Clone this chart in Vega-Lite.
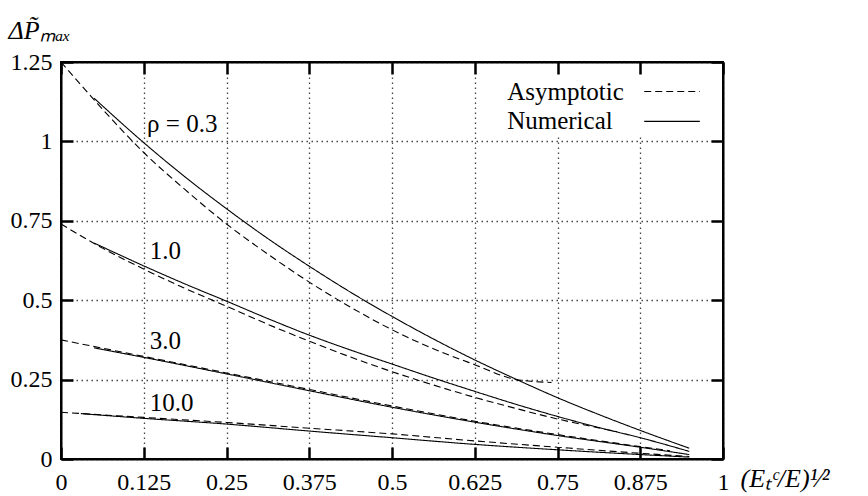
{
  "$schema": "https://vega.github.io/schema/vega-lite/v6.json",
  "width": 662,
  "height": 397,
  "autosize": "none",
  "padding": {"left": 61, "top": 62, "right": 145, "bottom": 37},
  "background": "white",
  "config": {
    "view": {"stroke": "black", "strokeWidth": 2},
    "font": "Liberation Serif",
    "axis": {
      "labelFont": "Liberation Serif",
      "titleFont": "Liberation Serif",
      "labelFontSize": 24,
      "titleFontSize": 26,
      "labelColor": "black",
      "titleColor": "black",
      "titleFontWeight": "normal",
      "tickColor": "black",
      "tickWidth": 2.5,
      "tickSize": -12,
      "domainColor": "black",
      "domainWidth": 2,
      "gridColor": "#444444",
      "gridDash": [1.5, 3.5],
      "gridWidth": 1.3,
      "labelFlush": false,
      "labelOverlap": false
    }
  },
  "datasets": {
    "curves": [
      {"series": "0.3 A", "kind": "Asymptotic", "x": 0, "y": 1.25},
      {"series": "0.3 A", "kind": "Asymptotic", "x": 0.0625, "y": 1.102},
      {"series": "0.3 A", "kind": "Asymptotic", "x": 0.125, "y": 0.965},
      {"series": "0.3 A", "kind": "Asymptotic", "x": 0.1875, "y": 0.848},
      {"series": "0.3 A", "kind": "Asymptotic", "x": 0.25, "y": 0.74},
      {"series": "0.3 A", "kind": "Asymptotic", "x": 0.3125, "y": 0.645},
      {"series": "0.3 A", "kind": "Asymptotic", "x": 0.375, "y": 0.557},
      {"series": "0.3 A", "kind": "Asymptotic", "x": 0.4375, "y": 0.478},
      {"series": "0.3 A", "kind": "Asymptotic", "x": 0.5, "y": 0.407},
      {"series": "0.3 A", "kind": "Asymptotic", "x": 0.5625, "y": 0.347},
      {"series": "0.3 A", "kind": "Asymptotic", "x": 0.625, "y": 0.297},
      {"series": "0.3 A", "kind": "Asymptotic", "x": 0.688, "y": 0.25},
      {"series": "0.3 A", "kind": "Asymptotic", "x": 0.741, "y": 0.241},
      {"series": "0.3 N", "kind": "Numerical", "x": 0.05, "y": 1.136},
      {"series": "0.3 N", "kind": "Numerical", "x": 0.125, "y": 0.996},
      {"series": "0.3 N", "kind": "Numerical", "x": 0.1875, "y": 0.888},
      {"series": "0.3 N", "kind": "Numerical", "x": 0.25, "y": 0.788},
      {"series": "0.3 N", "kind": "Numerical", "x": 0.3125, "y": 0.694},
      {"series": "0.3 N", "kind": "Numerical", "x": 0.375, "y": 0.607},
      {"series": "0.3 N", "kind": "Numerical", "x": 0.4375, "y": 0.525},
      {"series": "0.3 N", "kind": "Numerical", "x": 0.5, "y": 0.449},
      {"series": "0.3 N", "kind": "Numerical", "x": 0.5625, "y": 0.378},
      {"series": "0.3 N", "kind": "Numerical", "x": 0.625, "y": 0.312},
      {"series": "0.3 N", "kind": "Numerical", "x": 0.6875, "y": 0.251},
      {"series": "0.3 N", "kind": "Numerical", "x": 0.75, "y": 0.193},
      {"series": "0.3 N", "kind": "Numerical", "x": 0.8125, "y": 0.14},
      {"series": "0.3 N", "kind": "Numerical", "x": 0.875, "y": 0.09},
      {"series": "0.3 N", "kind": "Numerical", "x": 0.949, "y": 0.034},
      {"series": "1.0 A", "kind": "Asymptotic", "x": 0, "y": 0.74},
      {"series": "1.0 A", "kind": "Asymptotic", "x": 0.0625, "y": 0.664},
      {"series": "1.0 A", "kind": "Asymptotic", "x": 0.125, "y": 0.598},
      {"series": "1.0 A", "kind": "Asymptotic", "x": 0.1875, "y": 0.537},
      {"series": "1.0 A", "kind": "Asymptotic", "x": 0.25, "y": 0.481},
      {"series": "1.0 A", "kind": "Asymptotic", "x": 0.3125, "y": 0.424},
      {"series": "1.0 A", "kind": "Asymptotic", "x": 0.375, "y": 0.371},
      {"series": "1.0 A", "kind": "Asymptotic", "x": 0.4375, "y": 0.321},
      {"series": "1.0 A", "kind": "Asymptotic", "x": 0.5, "y": 0.275},
      {"series": "1.0 A", "kind": "Asymptotic", "x": 0.5625, "y": 0.233},
      {"series": "1.0 A", "kind": "Asymptotic", "x": 0.625, "y": 0.194},
      {"series": "1.0 A", "kind": "Asymptotic", "x": 0.6875, "y": 0.159},
      {"series": "1.0 A", "kind": "Asymptotic", "x": 0.75, "y": 0.126},
      {"series": "1.0 A", "kind": "Asymptotic", "x": 0.8125, "y": 0.098},
      {"series": "1.0 A", "kind": "Asymptotic", "x": 0.84, "y": 0.086},
      {"series": "1.0 N", "kind": "Numerical", "x": 0.05, "y": 0.68},
      {"series": "1.0 N", "kind": "Numerical", "x": 0.125, "y": 0.608},
      {"series": "1.0 N", "kind": "Numerical", "x": 0.1875, "y": 0.551},
      {"series": "1.0 N", "kind": "Numerical", "x": 0.25, "y": 0.497},
      {"series": "1.0 N", "kind": "Numerical", "x": 0.3125, "y": 0.442},
      {"series": "1.0 N", "kind": "Numerical", "x": 0.375, "y": 0.39},
      {"series": "1.0 N", "kind": "Numerical", "x": 0.4375, "y": 0.343},
      {"series": "1.0 N", "kind": "Numerical", "x": 0.5, "y": 0.299},
      {"series": "1.0 N", "kind": "Numerical", "x": 0.5625, "y": 0.255},
      {"series": "1.0 N", "kind": "Numerical", "x": 0.625, "y": 0.213},
      {"series": "1.0 N", "kind": "Numerical", "x": 0.6875, "y": 0.172},
      {"series": "1.0 N", "kind": "Numerical", "x": 0.75, "y": 0.134},
      {"series": "1.0 N", "kind": "Numerical", "x": 0.8125, "y": 0.099},
      {"series": "1.0 N", "kind": "Numerical", "x": 0.875, "y": 0.067},
      {"series": "1.0 N", "kind": "Numerical", "x": 0.949, "y": 0.024},
      {"series": "3.0 A", "kind": "Asymptotic", "x": 0, "y": 0.375},
      {"series": "3.0 A", "kind": "Asymptotic", "x": 0.125, "y": 0.323},
      {"series": "3.0 A", "kind": "Asymptotic", "x": 0.25, "y": 0.271},
      {"series": "3.0 A", "kind": "Asymptotic", "x": 0.375, "y": 0.219},
      {"series": "3.0 A", "kind": "Asymptotic", "x": 0.5, "y": 0.167},
      {"series": "3.0 A", "kind": "Asymptotic", "x": 0.625, "y": 0.119},
      {"series": "3.0 A", "kind": "Asymptotic", "x": 0.75, "y": 0.077},
      {"series": "3.0 A", "kind": "Asymptotic", "x": 0.875, "y": 0.039},
      {"series": "3.0 A", "kind": "Asymptotic", "x": 0.92, "y": 0.026},
      {"series": "3.0 N", "kind": "Numerical", "x": 0.05, "y": 0.35},
      {"series": "3.0 N", "kind": "Numerical", "x": 0.125, "y": 0.32},
      {"series": "3.0 N", "kind": "Numerical", "x": 0.25, "y": 0.268},
      {"series": "3.0 N", "kind": "Numerical", "x": 0.375, "y": 0.215},
      {"series": "3.0 N", "kind": "Numerical", "x": 0.5, "y": 0.163},
      {"series": "3.0 N", "kind": "Numerical", "x": 0.625, "y": 0.116},
      {"series": "3.0 N", "kind": "Numerical", "x": 0.75, "y": 0.074},
      {"series": "3.0 N", "kind": "Numerical", "x": 0.875, "y": 0.037},
      {"series": "3.0 N", "kind": "Numerical", "x": 0.949, "y": 0.014},
      {"series": "10.0 A", "kind": "Asymptotic", "x": 0, "y": 0.147},
      {"series": "10.0 A", "kind": "Asymptotic", "x": 0.125, "y": 0.131},
      {"series": "10.0 A", "kind": "Asymptotic", "x": 0.25, "y": 0.115},
      {"series": "10.0 A", "kind": "Asymptotic", "x": 0.375, "y": 0.097},
      {"series": "10.0 A", "kind": "Asymptotic", "x": 0.5, "y": 0.079},
      {"series": "10.0 A", "kind": "Asymptotic", "x": 0.625, "y": 0.057},
      {"series": "10.0 A", "kind": "Asymptotic", "x": 0.75, "y": 0.037},
      {"series": "10.0 A", "kind": "Asymptotic", "x": 0.875, "y": 0.018},
      {"series": "10.0 A", "kind": "Asymptotic", "x": 0.949, "y": 0.008},
      {"series": "10.0 N", "kind": "Numerical", "x": 0.03, "y": 0.143},
      {"series": "10.0 N", "kind": "Numerical", "x": 0.125, "y": 0.128},
      {"series": "10.0 N", "kind": "Numerical", "x": 0.25, "y": 0.11},
      {"series": "10.0 N", "kind": "Numerical", "x": 0.375, "y": 0.088},
      {"series": "10.0 N", "kind": "Numerical", "x": 0.5, "y": 0.067},
      {"series": "10.0 N", "kind": "Numerical", "x": 0.625, "y": 0.046},
      {"series": "10.0 N", "kind": "Numerical", "x": 0.75, "y": 0.029},
      {"series": "10.0 N", "kind": "Numerical", "x": 0.875, "y": 0.014},
      {"series": "10.0 N", "kind": "Numerical", "x": 0.949, "y": 0.006}
    ],
    "labels": [
      {"text": "ρ = 0.3", "x": 0.13, "y": 1.054},
      {"text": "1.0", "x": 0.134, "y": 0.655},
      {"text": "3.0", "x": 0.134, "y": 0.372},
      {"text": "10.0", "x": 0.134, "y": 0.177},
      {"text": "Asymptotic", "x": 0.674, "y": 1.157},
      {"text": "Numerical", "x": 0.674, "y": 1.063}
    ],
    "keybox": [
      {"x1": 0.655, "x2": 0.99, "y1": 1.016, "y2": 1.204}
    ],
    "keylines": [
      {"kind": "Asymptotic", "x": 0.881, "x2": 0.965, "y": 1.157},
      {"kind": "Numerical", "x": 0.881, "x2": 0.965, "y": 1.063}
    ]
  },
  "layer": [
    {
      "data": {"name": "curves"},
      "mark": {"type": "line", "color": "black", "strokeWidth": 1.1, "interpolate": "monotone"},
      "encoding": {
        "x": {
          "field": "x", "type": "quantitative",
          "scale": {"domain": [0, 1], "nice": false, "zero": false},
          "axis": {
            "orient": "bottom",
            "values": [0, 0.125, 0.25, 0.375, 0.5, 0.625, 0.75, 0.875, 1],
            "format": ".3~f",
            "grid": true,
            "labelPadding": 23,
            "title": "(Eₜᶜ/E)¹⁄²",
            "titleFontStyle": "italic",
            "titleAlign": "left",
            "titleBaseline": "middle",
            "titleAngle": 0,
            "titleX": 679,
            "titleY": 19
          }
        },
        "y": {
          "field": "y", "type": "quantitative",
          "scale": {"domain": [0, 1.25], "nice": false, "zero": false},
          "axis": {
            "orient": "left",
            "values": [0, 0.25, 0.5, 0.75, 1, 1.25],
            "format": ".2~f",
            "grid": true,
            "labelPadding": 21,
            "title": "ΔP̃ₘₐₓ",
            "titleFontStyle": "italic",
            "titleAlign": "left",
            "titleBaseline": "middle",
            "titleAngle": 0,
            "titleX": -53,
            "titleY": -32
          }
        },
        "detail": {"field": "series", "type": "nominal"},
        "strokeDash": {
          "field": "kind", "type": "nominal",
          "scale": {"domain": ["Asymptotic", "Numerical"], "range": [[7, 4], [1, 0]]},
          "legend": null
        }
      }
    },
    {
      "data": {"name": "keybox"},
      "mark": {"type": "rect", "fill": "white", "stroke": null},
      "encoding": {
        "x": {
          "field": "x1", "type": "quantitative",
          "axis": {
            "orient": "top",
            "values": [0, 0.125, 0.25, 0.375, 0.5, 0.625, 0.75, 0.875, 1],
            "labels": false, "grid": false, "title": null
          }
        },
        "x2": {"field": "x2"},
        "y": {
          "field": "y1", "type": "quantitative",
          "axis": {
            "orient": "right",
            "values": [0, 0.25, 0.5, 0.75, 1, 1.25],
            "labels": false, "grid": false, "title": null
          }
        },
        "y2": {"field": "y2"}
      }
    },
    {
      "data": {"name": "keylines"},
      "mark": {"type": "rule", "color": "black", "strokeWidth": 1.1},
      "encoding": {
        "x": {"field": "x", "type": "quantitative", "axis": null},
        "x2": {"field": "x2"},
        "y": {"field": "y", "type": "quantitative", "axis": null},
        "strokeDash": {"field": "kind", "type": "nominal", "legend": null}
      }
    },
    {
      "data": {"name": "labels"},
      "mark": {"type": "text", "align": "left", "baseline": "middle", "fontSize": 25, "font": "Liberation Serif", "color": "black"},
      "encoding": {
        "x": {"field": "x", "type": "quantitative", "axis": null},
        "y": {"field": "y", "type": "quantitative", "axis": null},
        "text": {"field": "text", "type": "nominal"}
      }
    }
  ],
  "resolve": {"axis": {"x": "independent", "y": "independent"}}
}
